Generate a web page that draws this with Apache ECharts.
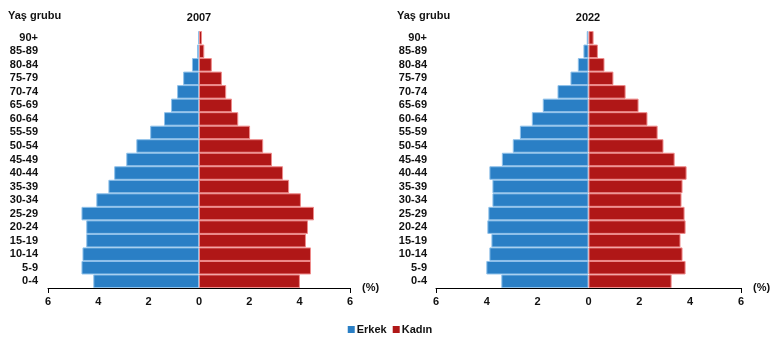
<!DOCTYPE html>
<html><head><meta charset="utf-8">
<script src="https://cdn.jsdelivr.net/npm/echarts@6/dist/echarts.min.js"></script>
<style>html,body{margin:0;padding:0;background:#fff}#c{width:780px;height:344px}</style>
</head><body><div id="c"></div>
<script>
const ageGroups = ['0-4','5-9','10-14','15-19','20-24','25-29','30-34','35-39','40-44','45-49','50-54','55-59','60-64','65-69','70-74','75-79','80-84','85-89','90+'];
const male2007   = [4.20,4.67,4.63,4.48,4.48,4.67,4.08,3.60,3.37,2.89,2.49,1.94,1.39,1.11,0.87,0.63,0.28,0.08,0.03];
const female2007 = [4.01,4.45,4.45,4.25,4.33,4.57,4.05,3.58,3.34,2.90,2.55,2.03,1.56,1.31,1.08,0.91,0.51,0.21,0.12];
const male2022   = [3.43,4.02,3.90,3.82,3.98,3.94,3.78,3.78,3.90,3.41,2.98,2.70,2.23,1.80,1.22,0.71,0.42,0.20,0.07];
const female2022 = [3.27,3.82,3.70,3.62,3.82,3.78,3.66,3.70,3.86,3.39,2.95,2.72,2.32,1.97,1.46,0.98,0.63,0.37,0.20];
const xTicks = [-6,-4,-2,0,2,4,6];
const years = ['2007','2022'];
const seriesNames = ['Erkek','Kadın'];

const BLUE = '#2a7fc5', RED = '#b01717';
const font = 'Liberation Sans, Arial, sans-serif';
const grids = [
  {left: 48, right: 430, top: 31, bottom: 56},
  {left: 436, right: 39, top: 31, bottom: 56}
];
const xAxes = [], yAxes = [], series = [];
const maleData = [male2007, male2022], femaleData = [female2007, female2022];
grids.forEach((g, i) => {
  xAxes.push({
    gridIndex: i, type: 'value', min: xTicks[0], max: xTicks[xTicks.length-1], interval: 2,
    axisLine: {show: true, onZero: false, lineStyle: {color: '#000', width: 1}},
    axisTick: {show: false}, splitLine: {show: false},
    axisLabel: {formatter: v => Math.abs(v), color: '#111', fontFamily: font, fontWeight: 'bold', fontSize: 11, margin: 8},
    name: '(%)', nameLocation: 'end', nameGap: 12,
    nameTextStyle: {color: '#111', fontFamily: font, fontWeight: 'bold', fontSize: 11, verticalAlign: 'middle', padding: [4,0,0,0]}
  });
  xAxes.push({
    gridIndex: i, type: 'value', min: -6, max: 6, interval: 12, position: 'bottom',
    axisLine: {show: false}, axisLabel: {show: false}, splitLine: {show: false},
    axisTick: {show: true, length: 5, lineStyle: {color: '#000'}}
  });
  yAxes.push({
    gridIndex: i, type: 'category', data: ageGroups,
    axisLine: {show: false, onZero: false}, axisTick: {show: false}, splitLine: {show: false},
    axisLabel: {interval: 0, color: '#111', fontFamily: font, fontWeight: 'bold', fontSize: 11, margin: i === 0 ? 10 : 9, align: 'right'}
  });
  series.push({
    name: seriesNames[0], type: 'bar', stack: 's' + i, xAxisIndex: i * 2, yAxisIndex: i,
    data: maleData[i].map(v => -v), barCategoryGap: '0%',
    itemStyle: {color: BLUE, borderColor: '#8fc1ea', borderWidth: 1}
  });
  series.push({
    name: seriesNames[1], type: 'bar', stack: 's' + i, xAxisIndex: i * 2, yAxisIndex: i,
    data: femaleData[i], barCategoryGap: '0%',
    itemStyle: {color: RED, borderColor: '#ee8a8a', borderWidth: 1}
  });
});

const chart = echarts.init(document.getElementById('c'), null, {renderer: 'canvas'});
chart.setOption({
  animation: false,
  backgroundColor: '#fff',
  title: [
    {text: 'Yaş grubu', left: 8, top: 10, padding: 0, textStyle: {fontFamily: font, fontWeight: 'bold', fontSize: 11, color: '#111'}},
    {text: years[0], left: 199, top: 12, padding: 0, textAlign: 'center', textStyle: {fontFamily: font, fontWeight: 'bold', fontSize: 11, color: '#111'}},
    {text: 'Yaş grubu', left: 397, top: 10, padding: 0, textStyle: {fontFamily: font, fontWeight: 'bold', fontSize: 11, color: '#111'}},
    {text: years[1], left: 588, top: 12, padding: 0, textAlign: 'center', textStyle: {fontFamily: font, fontWeight: 'bold', fontSize: 11, color: '#111'}}
  ],
  legend: {
    data: seriesNames, bottom: 4, left: 'center', icon: 'rect', itemWidth: 7, itemHeight: 7, itemGap: 6,
    itemStyle: {borderWidth: 0},
    textStyle: {fontFamily: font, fontWeight: 'bold', fontSize: 11, color: '#111', padding: [0,0,0,-3]}
  },
  grid: grids,
  xAxis: xAxes,
  yAxis: yAxes,
  series: series
});
</script></body></html>
